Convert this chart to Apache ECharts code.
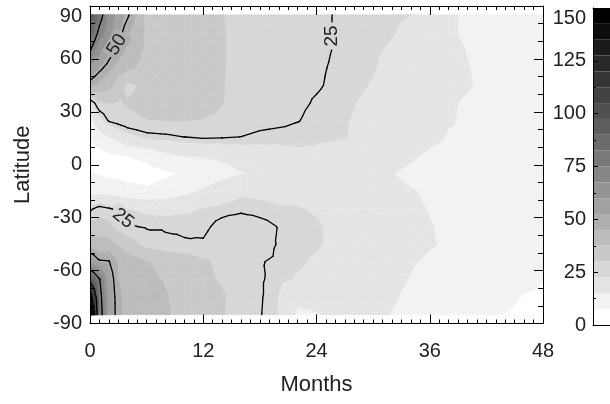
<!DOCTYPE html>
<html><head><meta charset="utf-8">
<script src="https://cdn.jsdelivr.net/npm/echarts/dist/echarts.min.js"></script>
<style>html,body{margin:0;padding:0;background:#fff;overflow:hidden}#c{width:610px;height:404px}</style>
</head><body><div id="c"></div>
<script>
// ---- data ----
const months = [0,1,2,3,4,6,8,10,12,14,16,18,20,22,24,26,28,30,32,34,36,38,40,42,44,46,48];
const lats = [-85,-75,-65,-55,-45,-35,-25,-15,-5,5,15,25,35,45,55,65,75,85];
const latS85 = [160,82,58,46,43,41,39,33,31.5,30.3,27.5,25.3,22.3,14,14.5,17,17.5,16.5,14.8,13.5,13,12.5,12,10,7.3,5.5,5];
const latS75 = [135,80,57,46,43,40.5,38,35,32,30.5,28,25.5,22.3,16,17.5,18.5,18,17,15.5,14,13.5,13,12.5,12,9.5,7,6.5];
const latS65 = [95,76,55,45,42,39,37,34,31,29.5,27.5,25.5,23.5,22,21,20,19,17.5,16,14.8,14,13.5,13,12.5,12,9.5,7.8];
const latS55 = [58,51,50.5,44,41,38,35,34,31,28.5,27,25.3,24.2,23.2,21.8,20.5,19.5,18,16.5,15.3,14.5,14,13.5,13,12.5,12,11];
const latS45 = [42,40,40,37,33,28,26,25.3,25.5,28,29.5,28,24.5,23.5,23,21.5,20,18.5,17,16,15.3,14.5,13.8,13,12.5,12,11.5];
const latS35 = [32,33,32,27,25.5,24.5,24.5,24.5,24,26.5,28,26.5,24.8,23.8,23,21.5,20,18.5,17,16,15.2,14.2,13.5,13,12.5,12,11.5];
const latS25 = [24,27,25.5,24,22.5,21.5,21,21.5,22.8,23.5,24,23.5,23,22.8,22,21,20,18.5,17,15.8,14.8,14,13.5,13,12.5,12,11.5];
const latS15 = [12,12,12,11,10,8.5,10,13,16,19.5,21.8,21.5,21,20.5,19.5,18.8,18,17,16,15.2,14.5,13.8,13.2,12.5,12,11.5,11];
const latS5  = [8,7,6,5.5,5,5,6.5,8,10,12,14.5,16,17,17.5,17.5,17,16.5,15.8,15.1,14.2,14,13.5,13,12.5,12,11.5,11];
const latN5  = [4,5,6,7,7.5,8.8,13,15,15.5,16.5,18.5,20.5,21.5,22,21.8,20.5,19,17.5,16.5,15.5,14.2,13.5,13,12.5,12,11.5,11];
const latN15 = [8,11,14,17,20,22.8,23.5,24.6,25,24.9,24.7,23.5,23,23,22.9,22.8,22.3,20.5,19,17.5,16,14.7,14.2,13.5,12.5,11.5,11];
const latN25 = [13,20,25.5,27,28.5,29.8,30,30,29.8,29,28,27,26.3,25.2,23.7,23,22.3,21,19.5,18,16.5,15.3,14.5,13.5,12.5,11.5,11];
const latN35 = [21,29,30,29.5,30.5,32,33,33,32,30.2,28,27,26.5,25.8,24.6,23.8,22.6,21.5,20,18.5,17,15.5,14.5,13.5,12.5,11.5,11];
const latN45 = [47,43,40,33,28.5,31.5,33,33,32,30.3,28,27,26.5,26,25.4,24.3,23.2,22.2,20.5,19,17.5,16.2,15.4,14,12.5,11.5,11];
const latN55 = [58,52,47,42,39,35,34,33,32,30.5,28,27,26.5,26,25.5,24.6,23.5,22.8,21,19.5,18,16.5,15.2,13.5,12,11.5,11];
const latN65 = [76,62,54,48,43,36,34,33,32,30.5,28,27,26.5,26,25.8,24.8,23.8,23,22,20.5,18.5,16.5,14.8,13,12,11.5,11];
const latN75 = [88,72,62,53,46,36,34,33,32,30.5,28,27,26.5,26,25.8,24.8,24,23.5,22.8,21,18.5,15.8,14,13,12,11.5,11];
const latN85 = [95,80,66,56,51,35,34,33,32,30.2,28,27,26.5,26,26,24.8,24.3,23.8,23.2,22.5,19,16,14,13,12,11.5,11];

const fillLevels = [0,7.5,15,22.5,30,37.5,45,52.5,60,67.5,75,82.5,90,97.5,105,112.5,120,127.5,135,142.5,150];
const bandGrays = [255,242,228,215,201,188,174,161,148,134,121,107,94,80,67,54,40,27,13,0];
const lineLevels = [25,50,75,100,125,150];
const xTicks = [0,12,24,36,48];
const yTicks = [-90,-60,-30,0,30,60,90];
const cbTicks = [0,25,50,75,100,125,150];
const contourLabels = [
  {level:25, month:25.65, lat:73, angle:90},
  {level:50, month:2.85, lat:68, angle:58},
  {level:25, month:3.5, lat:-30.5, angle:-39}
];

// ---- helpers ----
const rows = [latS85,latS75,latS65,latS55,latS45,latS35,latS25,latS15,latS5,latN5,latN15,latN25,latN35,latN45,latN55,latN65,latN75,latN85];
const FONT = '"Liberation Sans", Arial, Helvetica, sans-serif';
const TXT = '#222';
function bandOf(v){ for(let k=bandGrays.length-1;k>=0;k--){ if(v>=fillLevels[k]) return k; } return 0; }
function gray(k){ const g=bandGrays[k]; return 'rgb('+g+','+g+','+g+')'; }
const cells=[];
for(let i=0;i<months.length-1;i++) for(let j=0;j<lats.length-1;j++) cells.push([i,j]);
function cellTris(i,j){
  const p00={x:months[i],y:lats[j],v:rows[j][i]}, p10={x:months[i+1],y:lats[j],v:rows[j][i+1]};
  const p11={x:months[i+1],y:lats[j+1],v:rows[j+1][i+1]}, p01={x:months[i],y:lats[j+1],v:rows[j+1][i]};
  const c={x:(p00.x+p10.x)/2,y:(p00.y+p01.y)/2,v:(p00.v+p10.v+p11.v+p01.v)/4};
  return [[p00,p10,c],[p10,p11,c],[p11,p01,c],[p01,p00,c]];
}
function clipAbove(poly,t){
  const out=[];
  for(let k=0;k<poly.length;k++){
    const a=poly[k], b=poly[(k+1)%poly.length];
    const ai=a.v>=t, bi=b.v>=t;
    if(ai) out.push(a);
    if(ai!==bi){ const s=(t-a.v)/(b.v-a.v); out.push({x:a.x+s*(b.x-a.x),y:a.y+s*(b.y-a.y),v:t}); }
  }
  return out;
}
function valueAt(m,l){
  let i=0; while(i<months.length-2 && months[i+1]<m) i++;
  let j=0; while(j<lats.length-2 && lats[j+1]<l) j++;
  const s=(m-months[i])/(months[i+1]-months[i]), t=(l-lats[j])/(lats[j+1]-lats[j]);
  return (1-s)*(1-t)*rows[j][i]+s*(1-t)*rows[j][i+1]+s*t*rows[j+1][i+1]+(1-s)*t*rows[j+1][i];
}

function renderFill(params, api){
  const [i,j]=cells[params.dataIndex];
  const children=[];
  cellTris(i,j).forEach(tri=>{
    const vs=tri.map(p=>p.v);
    const b0=bandOf(Math.min(...vs)), b1=bandOf(Math.max(...vs));
    for(let k=b0;k<=b1;k++){
      const poly = k===b0 ? tri : clipAbove(tri, fillLevels[k]);
      if(poly.length<3) continue;
      const col=gray(k);
      children.push({type:'polygon',shape:{points:poly.map(p=>api.coord([p.x,p.y]))},
        style:{fill:col,stroke:col,lineWidth:0.6}});
    }
  });
  return {type:'group',children};
}
function renderLines(params, api){
  const [i,j]=cells[params.dataIndex];
  const children=[];
  cellTris(i,j).forEach(tri=>{
    lineLevels.forEach(L0=>{
      const L=L0+1e-6;
      const pts=[];
      for(let k=0;k<3;k++){
        const a=tri[k], b=tri[(k+1)%3];
        if((a.v-L)*(b.v-L)<0){ const s=(L-a.v)/(b.v-a.v); pts.push(api.coord([a.x+s*(b.x-a.x),a.y+s*(b.y-a.y)])); }
      }
      if(pts.length===2) children.push({type:'line',shape:{x1:pts[0][0],y1:pts[0][1],x2:pts[1][0],y2:pts[1][1]},
        style:{stroke:'#000',lineWidth:1.3,lineCap:'round'}});
    });
  });
  return {type:'group',children};
}
function renderLabels(params, api){
  const L=contourLabels[params.dataIndex];
  const p=api.coord([L.month,L.lat]);
  return {type:'text',x:p[0],y:p[1],rotation:L.angle*Math.PI/180,
    style:{text:String(L.level),fontSize:19,fontFamily:FONT,fill:TXT,align:'center',verticalAlign:'middle',
      backgroundColor:gray(bandOf(valueAt(L.month,L.lat))),padding:[0,3]}};
}

const mainTick = {show:true,inside:true,length:9,lineStyle:{color:'#000',width:1}};
const lineSt = {show:true,onZero:false,lineStyle:{color:'#000',width:1}};
const lblSt = {fontSize:20,fontFamily:FONT,color:TXT};

const cbSeries = bandGrays.map((g,k)=>({
  type:'bar', xAxisIndex:2, yAxisIndex:2, stack:'cb', barWidth:'100%', silent:true,
  data:[fillLevels[k+1]-fillLevels[k]], itemStyle:{color:gray(k)}
}));

const option = {
  animation:false,
  backgroundColor:'#fff',
  grid:[
    {left:90,top:6,width:453,height:317.5,outerBoundsMode:'none',containLabel:false},
    {left:593,top:8,width:17,height:317,outerBoundsMode:'none',containLabel:false}
  ],
  xAxis:[
    {gridIndex:0,type:'value',position:'bottom',min:xTicks[0],max:xTicks[xTicks.length-1],interval:12,z:10,
     axisLine:lineSt,axisTick:mainTick,minorTick:{show:true,splitNumber:12,length:4,lineStyle:{color:'#000'}},
     splitLine:{show:false},axisLabel:Object.assign({margin:18},lblSt),
     name:'Months',nameLocation:'middle',nameGap:50,nameTextStyle:{fontSize:22,fontFamily:FONT,color:TXT}},
    {gridIndex:0,type:'value',position:'top',min:xTicks[0],max:xTicks[xTicks.length-1],interval:12,z:10,
     axisLine:lineSt,axisTick:mainTick,minorTick:{show:true,splitNumber:12,length:4,lineStyle:{color:'#000'}},
     splitLine:{show:false},axisLabel:{show:false}},
    {gridIndex:1,type:'category',data:['c'],position:'bottom',z:10,axisLine:lineSt,axisTick:{show:false},axisLabel:{show:false}},
    {gridIndex:1,type:'category',data:['c'],position:'top',z:10,axisLine:lineSt,axisTick:{show:false},axisLabel:{show:false}}
  ],
  yAxis:[
    {gridIndex:0,type:'value',position:'left',min:yTicks[0],max:yTicks[yTicks.length-1],interval:30,z:10,
     axisLine:lineSt,axisTick:mainTick,minorTick:{show:true,splitNumber:3,length:5,lineStyle:{color:'#000'}},
     splitLine:{show:false},axisLabel:Object.assign({margin:8,verticalAlignMaxLabel:'top'},lblSt),
     name:'Latitude',nameLocation:'middle',nameGap:56,nameTextStyle:{fontSize:22,fontFamily:FONT,color:TXT}},
    {gridIndex:0,type:'value',position:'right',min:yTicks[0],max:yTicks[yTicks.length-1],interval:30,z:10,
     axisLine:lineSt,axisTick:mainTick,minorTick:{show:true,splitNumber:3,length:5,lineStyle:{color:'#000'}},
     splitLine:{show:false},axisLabel:{show:false}},
    {gridIndex:1,type:'value',position:'left',min:cbTicks[0],max:cbTicks[cbTicks.length-1],interval:25,z:10,
     axisLine:lineSt,axisTick:{show:true,inside:true,length:5,lineStyle:{color:'#000'}},
     minorTick:{show:true,splitNumber:2,length:3,lineStyle:{color:'#000'}},
     splitLine:{show:false},axisLabel:Object.assign({margin:7,verticalAlignMaxLabel:'top'},lblSt)}
  ],
  series:[
    {type:'custom',xAxisIndex:0,yAxisIndex:0,data:cells,renderItem:renderFill,silent:true,z:1,clip:true},
    {type:'custom',xAxisIndex:0,yAxisIndex:0,data:cells,renderItem:renderLines,silent:true,z:2,clip:true},
    {type:'custom',xAxisIndex:0,yAxisIndex:0,data:contourLabels.map(l=>[l.month,l.lat]),renderItem:renderLabels,silent:true,z:3}
  ].concat(cbSeries)
};
const chart = echarts.init(document.getElementById('c'));
chart.setOption(option);
</script></body></html>
